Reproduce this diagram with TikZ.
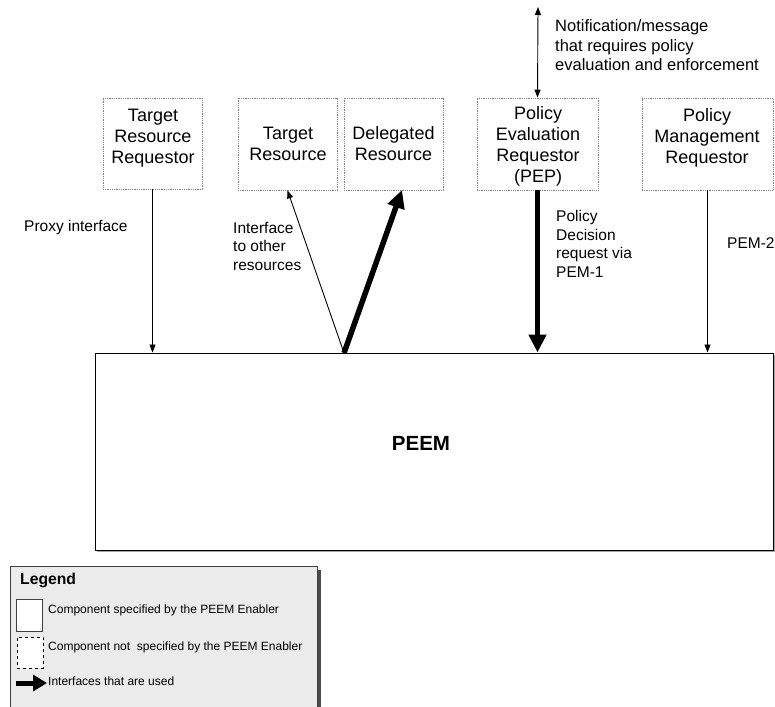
\documentclass[tikz,border=0pt]{standalone}
\usepackage{fontspec}
\setmainfont{Liberation Sans}
\usetikzlibrary{arrows.meta}
\definecolor{legfill}{HTML}{EBEBEB}
\begin{document}
\begin{tikzpicture}[x=1pt,y=-1pt,
  comp/.style={draw=gray, densely dotted, line width=0.8pt, inner sep=0pt, fill=white},
  boxtext/.style={font=\fontsize{18}{21}\selectfont, align=center, inner sep=0pt},
  smalltext/.style={font=\fontsize{15.5}{18.5}\selectfont, align=left, inner sep=0pt, anchor=west},
  legtext/.style={font=\fontsize{12}{14}\selectfont, inner sep=0pt, anchor=west},
  thinarrow/.style={line width=0.9pt, -{Triangle[length=8pt,width=6pt]}},
  thickarrow/.style={line width=5.5pt, -{Triangle[length=18pt,width=17pt]}},
]
\useasboundingbox (0,0) rectangle (775,706);

% components
\node[comp, minimum width=99pt, minimum height=91pt] (trr) at (152.5,143.5) {};
\node[comp, minimum width=99pt, minimum height=92pt] (tr) at (287.5,144) {};
\node[comp, minimum width=99pt, minimum height=92pt] (dr) at (393.5,144) {};
\node[comp, minimum width=121pt, minimum height=92pt] (pep) at (537.5,144) {};
\node[comp, minimum width=131pt, minimum height=92pt] (pmr) at (707.5,144) {};

\node[boxtext] (trrt) at (153,138) {Target\\Resource\\Requestor};
\node[boxtext] (trt) at (288,144) {Target\\Resource};
\node[boxtext] (drt) at (393.5,144) {Delegated\\Resource};
\node[boxtext] (pept) at (538,146) {Policy\\Evaluation\\Requestor\\(PEP)};
\node[boxtext] (pmrt) at (707,138) {Policy\\Management\\Requestor};

% PEEM
\fill[gray!70] (97,355) rectangle (775,552);
\node[draw=black, line width=1pt, fill=white, minimum width=678pt, minimum height=197pt, inner sep=0pt] (peem) at (434,451.5) {};
\node[font=\fontsize{20.5}{24}\selectfont\bfseries, inner sep=0pt] (peemt) at (421,443) {PEEM};

% top notification
\coordinate (notif) at (538,7);
\draw[line width=0.9pt, {Triangle[length=8pt,width=6pt]}-{Triangle[length=8pt,width=6pt]}] (notif) -- (pep.north);
\node[smalltext, font=\fontsize{16.5}{19.5}\selectfont] (notift) at (555,45.5) {Notification/message\\that requires policy\\evaluation and enforcement};

% connectors
\draw[thinarrow] (trr.south) -- (trr.south |- peem.north);
\coordinate (src) at (344,353);
\coordinate (drtip) at (402,190);
\draw[thinarrow] (src) -- (tr.south);
\draw[thickarrow] (src) -- (drtip);
\draw[thickarrow] (pep.south) -- (pep.south |- peem.north);
\draw[thinarrow] (pmr.south) -- (pmr.south |- peem.north);

% labels
\node[smalltext] (proxyt) at (24,227) {Proxy interface};
\node[smalltext] (ifacet) at (233,246) {Interface\\to other\\resources};
\node[smalltext] (pdrt) at (556,244) {Policy\\Decision\\request via\\PEM-1};
\node[smalltext] (pem2t) at (727,243) {PEM-2};

% legend
\fill[gray!60!black] (14,570) rectangle (321,712);
\node[draw=gray!50!black, line width=1pt, fill=legfill, minimum width=307pt, minimum height=150pt, inner sep=0pt, anchor=north west] (legend) at (10,566) {};
\node[font=\fontsize{15.7}{18}\selectfont\bfseries, inner sep=0pt, anchor=west] (legt) at (20,580) {Legend};
\node[draw=gray!50!black, line width=0.9pt, fill=white, minimum width=26pt, minimum height=32pt, inner sep=0pt] (legsolid) at (29,615) {};
\node[legtext] (legsolidt) at (48,610) {Component specified by the PEEM Enabler};
\node[draw=black, dashed, line width=0.8pt, fill=white, minimum width=26pt, minimum height=31pt, inner sep=0pt] (legdash) at (30,652.5) {};
\node[legtext] (legdasht) at (48,647) {Component not\ \ specified by the PEEM Enabler};
\coordinate (legarrs) at (16,683);
\coordinate (legarre) at (47,683);
\draw[line width=5pt, -{Triangle[length=14pt,width=16pt]}] (legarrs) -- (legarre);
\node[legtext] (legarrt) at (48,681) {Interfaces that are used};
\end{tikzpicture}
\end{document}
